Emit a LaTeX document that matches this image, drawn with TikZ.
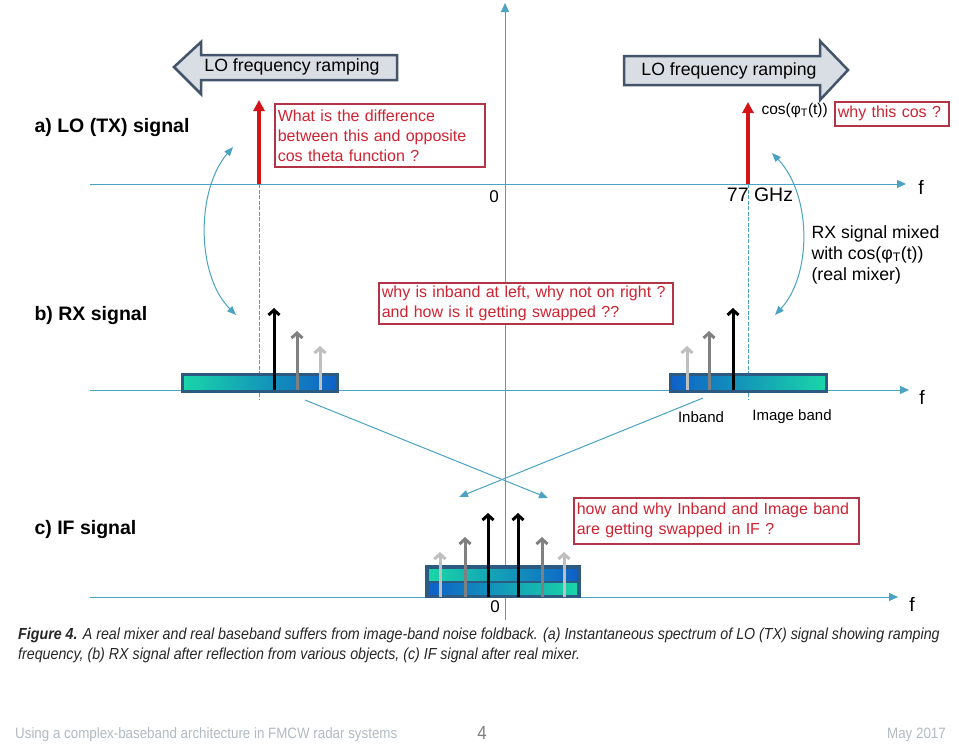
\documentclass[tikz,border=0pt]{standalone}
\usepackage{fontspec}
\setmainfont{Liberation Sans}
\newfontfamily\capfont{Liberation Sans}[FakeStretch=0.89]
\usetikzlibrary{arrows.meta}
\definecolor{axisblue}{RGB}{75,163,195}
\definecolor{lored}{RGB}{210,20,25}
\definecolor{notered}{RGB}{178,52,70}
\definecolor{notetext}{RGB}{208,35,50}
\definecolor{bandedge}{RGB}{45,90,128}
\definecolor{bandteal}{RGB}{25,214,168}
\definecolor{bandcyan}{RGB}{38,196,226}
\definecolor{bandblue}{RGB}{14,96,200}
\definecolor{rampfill}{RGB}{217,221,228}
\definecolor{rampedge}{RGB}{68,84,106}
\definecolor{footgray}{RGB}{178,186,194}

\begin{document}
\begin{tikzpicture}[x=1pt, y=-1pt,
    axis/.style={draw=axisblue, line width=1pt,
                 -{Triangle[length=9pt,width=8pt]}},
    guide/.style={draw=axisblue, line width=0.8pt,
                  dash pattern=on 4pt off 1.5pt},
    swing/.style={draw=axisblue, line width=1pt,
                  {Triangle[length=9pt,width=7pt]}-{Triangle[length=9pt,width=7pt]}},
    fold/.style={draw=axisblue, line width=1pt,
                 -{Triangle[length=9pt,width=7pt]}},
    tone/.style={line width=3pt, -{Straight Barb[length=5pt,width=11pt]}},
    carrier/.style={draw=lored, line width=4pt,
                    -{Triangle[length=11pt,width=11pt]}},
    ramp/.style={draw=rampedge, fill=rampfill, line width=2.5pt,
                 line join=miter},
    band/.style={draw=bandedge, line width=3pt},
    note/.style={draw=notered, fill=white, line width=1.6pt, text=notetext,
                 font=\fontsize{16}{20}\selectfont, align=left,
                 anchor=north west, inner sep=3pt},
    lbl/.style={font=\fontsize{19.5}{22}\selectfont\bfseries, anchor=west},
    txt/.style={font=\fontsize{17.7}{21}\selectfont},
  ]
  \def\dark{black}
  \def\mid{black!50}
  \def\pale{black!25}
  \useasboundingbox[fill=white] (0,0) rectangle (959,755);

  %% axes
  \draw[axis] (505,620) -- (505,3);
  \draw[axis] (90,184) -- (906,184);
  \draw[axis] (90,390) -- (909,390);
  \draw[axis] (90,597) -- (898,597);
  \node[font=\fontsize{19.5}{22}\selectfont] (fa) at (921,187) {f};
  \node[font=\fontsize{19.5}{22}\selectfont] (fb) at (922,397) {f};
  \node[font=\fontsize{19.5}{22}\selectfont] (fc) at (912,604) {f};
  \node[font=\fontsize{17}{20}\selectfont] (za) at (494,197) {0};
  \node[font=\fontsize{17}{20}\selectfont] (zc) at (495,607) {0};

  %% dashed LO positions
  \draw[guide] (259,184) -- (259,400);
  \draw[guide] (748,184) -- (748,400);

  %% LO frequency ramping arrows
  \draw[ramp] (174,67) -- (201,42) -- (201,55) -- (397,55) -- (397,80)
    -- (201,80) -- (201,94) -- cycle;
  \node[txt] (rampl) at (292,67) {LO frequency ramping};
  \draw[ramp] (624,56) -- (820,56) -- (820,41) -- (848,70) -- (820,100)
    -- (820,85) -- (624,85) -- cycle;
  \node[txt] (rampr) at (729,71) {LO frequency ramping};

  %% row labels
  \node[lbl] (la) at (31,127) {a) LO (TX) signal};
  \node[lbl] (lb) at (31,315) {b) RX signal};
  \node[lbl] (lc) at (31,529) {c) IF signal};

  %% LO carriers
  \draw[carrier] (259,184) -- (259,100);
  \draw[carrier] (748,184) -- (748,102);
  \node[font=\fontsize{15.5}{18}\selectfont, anchor=west] (cosphi) at (758,110)
    {cos(φ\textsubscript{T}(t))};
  \node[font=\fontsize{19.5}{22}\selectfont] (ghz) at (760,195) {77 GHz};

  %% RX bands
  \shade[left color=bandteal, middle color=bandcyan, right color=bandblue]
    (182,374) rectangle (337,391);
  \draw[band] (182,374) rectangle (337,391);
  \shade[left color=bandblue, middle color=bandcyan, right color=bandteal]
    (670,374) rectangle (826,391);
  \draw[band] (670,374) rectangle (826,391);

  %% RX tones
  \foreach \x/\t/\c in {274/308/\dark, 297/331/\mid, 320/346/\pale,
                        687/346/\pale, 709/331/\mid, 733/308/\dark}{
    \draw[tone, draw=\c] (\x,390) -- (\x,\t);
  }
  \node[font=\fontsize{15}{18}\selectfont] (inb) at (701,417) {Inband};
  \node[font=\fontsize{15}{18}\selectfont] (img) at (792,417) {Image band};

  %% mixing swings
  \coordinate (swl1) at (233,147);
  \coordinate (swl2) at (236,315);
  \coordinate (swr1) at (772,153);
  \coordinate (swr2) at (775,315);
  \draw[swing] (swl1) .. controls (196,190) and (196,275) .. (swl2);
  \draw[swing] (swr1) .. controls (812,195) and (812,275) .. (swr2);
  \node[txt, align=left, anchor=north west] (mixtxt) at (808,222)
    {RX signal mixed\\with cos(φ\textsubscript{T}(t))\\(real mixer)};

  %% IF band
  \fill[bandedge] (425,565) rectangle (581,598);
  \shade[left color=bandteal, middle color=bandcyan, right color=bandblue]
    (429,569) rectangle (577,580);
  \shade[left color=bandblue, middle color=bandcyan, right color=bandteal]
    (429,583) rectangle (577,594);

  %% IF tones
  \foreach \x/\t/\c in {440/552/\pale, 465/537/\mid, 488/513/\dark,
                        518/513/\dark, 542/537/\mid, 564/552/\pale}{
    \draw[tone, draw=\c] (\x,597) -- (\x,\t);
  }

  %% foldback
  \coordinate (fl1) at (305,400);
  \coordinate (fl2) at (548,498);
  \coordinate (fr1) at (703,398);
  \coordinate (fr2) at (459,497);
  \draw[fold] (fl1) -- (fl2);
  \draw[fold] (fr1) -- (fr2);

  %% questions
  \node[note, text width=204pt, minimum height=63pt] (qa) at (274,103)
    {What is the difference\\between this and opposite\\cos theta function ?};
  \node[note, text width=108pt, minimum height=24pt] (qcos) at (834,101)
    {why this cos ?};
  \node[note, text width=288pt, minimum height=41pt] (qb) at (378,282)
    {why is inband at left, why not on right ?\\and how is it getting swapped ??};
  \node[note, text width=279pt, minimum height=46pt] (qc) at (573,497)
    {how and why Inband and Image band\\are getting swapped in IF ?};

  %% caption
  \node[anchor=north west, align=left, inner sep=0pt, text=black!85,
        font=\capfont\fontsize{16}{20}\selectfont\itshape] (cap) at (18,628)
    {\textbf{Figure 4.} A real mixer and real baseband suffers from image-band noise foldback. (a) Instantaneous spectrum of LO (TX) signal showing ramping\\
     frequency, (b) RX signal after reflection from various objects, (c) IF signal after real mixer.};

  %% footer
  \node[anchor=west, inner sep=0pt, text=footgray,
        font=\capfont\fontsize{15}{18}\selectfont] (foot) at (15,735)
    {Using a complex-baseband architecture in FMCW radar systems};
  \node[inner sep=0pt, text=black!50,
        font=\capfont\fontsize{19}{22}\selectfont] (page) at (482,733) {4};
  \node[anchor=east, inner sep=0pt, text=footgray,
        font=\capfont\fontsize{15}{18}\selectfont] (date) at (946,735) {May 2017};
\end{tikzpicture}
\end{document}
